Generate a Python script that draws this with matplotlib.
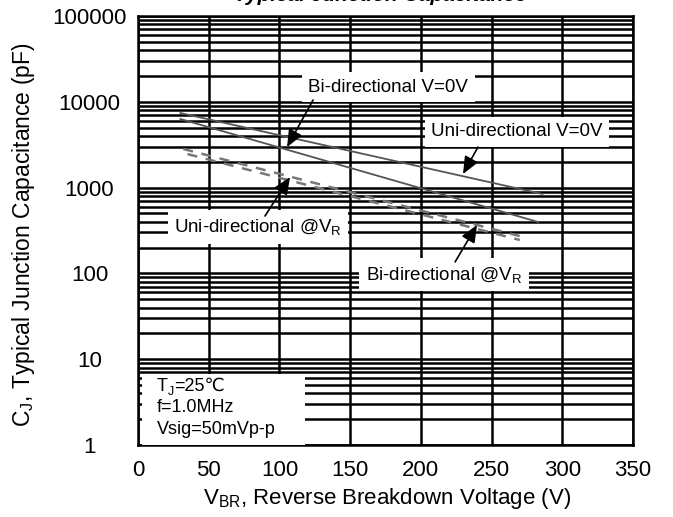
import matplotlib
matplotlib.use("Agg")
import matplotlib.pyplot as plt
import matplotlib.patches as patches
import numpy as np

# data (V, pF)
volts_uni_0v = [30, 286]
cap_uni_0v = [7400, 842]
volts_bi_0v = [30, 283]
cap_bi_0v = [6300, 397]
volts_uni_vr = [32, 275]
cap_uni_vr = [2820, 259]
volts_bi_vr = [35, 270]
cap_bi_vr = [2460, 245]

xticks = [0, 50, 100, 150, 200, 250, 300, 350]
yticks = [1, 10, 100, 1000, 10000, 100000]
ytick_labels = ["1", "10", "100", "1000", "10000", "100000"]

plt.rcParams['font.family'] = ['Liberation Sans', 'DejaVu Sans']
plt.rcParams['mathtext.fontset'] = 'custom'
plt.rcParams['mathtext.rm'] = 'Liberation Sans'
plt.rcParams['mathtext.it'] = 'Liberation Sans:italic'

fig = plt.figure(figsize=(6.73, 5.17), dpi=100)
ax = fig.add_axes([138/673, 72/517, 495/673, 429/517])

ax.set_yscale('log')
ax.set_xlim(0, 350)
ax.set_ylim(1, 100000)
ax.set_xticks(xticks)
ax.set_xticklabels([str(t) for t in xticks])
ax.set_yticks(yticks)
ax.set_yticklabels(ytick_labels)

# heavy black grid, like the datasheet scan
ax.grid(which='major', axis='x', color='black', lw=1.8)
ax.grid(which='both', axis='y', color='black', lw=1.8)
ax.set_axisbelow(True)
for s in ax.spines.values():
    s.set_linewidth(1.8)

ax.tick_params(which='both', length=0)
ax.tick_params(axis='x', labelsize=16, pad=11)
ax.tick_params(axis='y', labelsize=16, pad=35)
for lab in ax.get_yticklabels():
    lab.set_horizontalalignment('center')

# curves
ax.plot(volts_uni_0v, cap_uni_0v, color='#555555', lw=1.3, zorder=3)
ax.plot(volts_bi_0v, cap_bi_0v, color='#555555', lw=1.3, zorder=3)
ax.plot(volts_uni_vr, cap_uni_vr, color='#777777', lw=1.8, dashes=(4, 3.5), zorder=3)
ax.plot(volts_bi_vr, cap_bi_vr, color='#777777', lw=1.8, dashes=(4, 3.5), zorder=3)

box = dict(boxstyle='square,pad=0.35', fc='white', ec='none')
fs = 13.5
ax.text(176.8, 14800, "Bi-directional V=0V", fontsize=fs, ha='center', va='center', bbox=box, zorder=4)
ax.text(268, 4450, "Uni-directional V=0V", fontsize=fs, ha='center', va='center', bbox=box, zorder=4)
ax.text(84.9, 347, "Uni-directional @V$_\\mathrm{R}$", fontsize=fs, ha='center', va='center', bbox=box, zorder=4)
ax.text(216.4, 96, "Bi-directional @V$_\\mathrm{R}$", fontsize=fs, ha='center', va='center', bbox=box, zorder=4)

# arrows (head, tail)
arrows = [((105.4, 2970), (123.8, 10500)),
          ((229.8, 1440), (240.4, 2970)),
          ((107.5, 1330), (89.8, 467)),
          ((239.7, 367), (224.2, 136))]
for head, tail in arrows:
    ax.annotate('', xy=head, xytext=tail, zorder=5,
                arrowprops=dict(arrowstyle='-|>,head_length=0.7,head_width=0.3',
                                color='black', lw=1.2, shrinkA=0, shrinkB=0,
                                mutation_scale=15))

# test conditions box
ax.add_patch(patches.Rectangle((3, 1.0), 115, 5.7, fc='white', ec='none', zorder=4))
t_T = ax.text(13.4, 4.87, "T", fontsize=13, ha='left', va='center', zorder=5)
t_J = ax.annotate("J", xy=(1, 0), xycoords=t_T, xytext=(0, -2.5),
                  textcoords='offset points', fontsize=9, ha='left', va='bottom', zorder=5)
ax.annotate("=25℃", xy=(1, 0), xycoords=t_J, xytext=(0, 2.5),
            textcoords='offset points', fontsize=13, ha='left', va='bottom', zorder=5)
ax.text(13.4, 2.7, "f=1.0MHz", fontsize=13, ha='left', va='center', zorder=5)
ax.text(13.4, 1.5, "Vsig=50mVp-p", fontsize=13, ha='left', va='center', zorder=5)

ax.set_xlabel("V$_\\mathrm{BR}$, Reverse Breakdown Voltage (V)", fontsize=16)
ax.set_ylabel("C$_\\mathrm{J}$, Typical Junction Capacitance (pF)", fontsize=16.5)
ax.xaxis.set_label_coords(0.503, -0.095)
ax.yaxis.set_label_coords(-0.205, 0.49)

# title is clipped by the top edge in the original
fig.text(0.565, 1 - 1/517, "Typical Junction Capacitance", fontsize=15,
         weight='bold', style='italic', ha='center', va='baseline')

fig.savefig("out.png", dpi=100)
